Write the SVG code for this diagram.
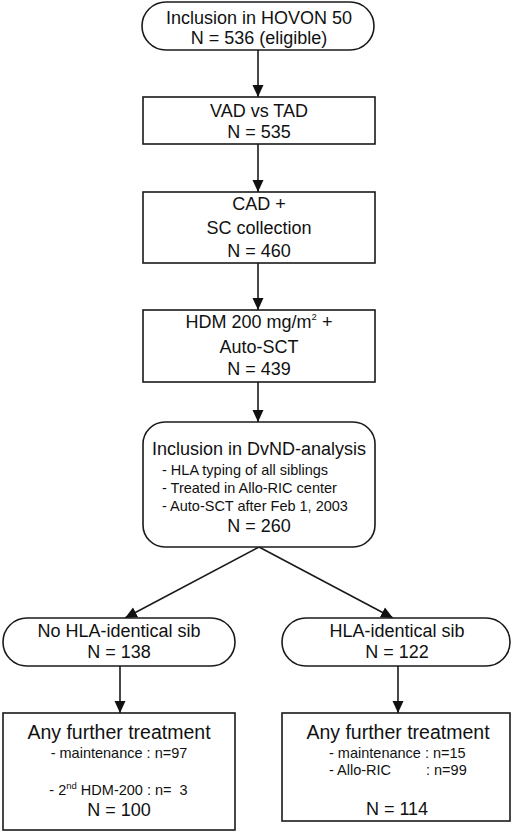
<svg xmlns="http://www.w3.org/2000/svg" width="520" height="835" viewBox="0 0 520 835">
<defs>
<style>
.box{fill:#fff;stroke:#1a1a1a;stroke-width:1.6}
.ln{fill:none;stroke:#1a1a1a;stroke-width:1.6}
text{font-family:"Liberation Sans",Arial,sans-serif;fill:#111}
.m{font-size:18px;text-anchor:middle}
.b{font-size:19.5px;text-anchor:middle}
.s{font-size:14.5px}
.t{font-size:14.5px}
.tc{font-size:14.5px;text-anchor:middle;white-space:pre}
.sup{font-size:9.5px}
</style>
<marker id="ah" markerUnits="userSpaceOnUse" markerWidth="12" markerHeight="12" refX="12" refY="6" orient="auto" viewBox="0 0 12 12">
<path d="M0,0.5 L12,6 L0,11.5 z" fill="#111"/>
</marker>
</defs>
<g id="connectors">
<line class="ln" x1="258" y1="50" x2="258" y2="97" marker-end="url(#ah)"/>
<line class="ln" x1="258" y1="144" x2="258" y2="192" marker-end="url(#ah)"/>
<line class="ln" x1="258" y1="263" x2="258" y2="310" marker-end="url(#ah)"/>
<line class="ln" x1="258" y1="382" x2="258" y2="422" marker-end="url(#ah)"/>
<line class="ln" x1="259" y1="547" x2="125" y2="618" marker-end="url(#ah)"/>
<line class="ln" x1="259" y1="547" x2="393" y2="618" marker-end="url(#ah)"/>
<line class="ln" x1="120" y1="666" x2="120" y2="713" marker-end="url(#ah)"/>
<line class="ln" x1="398" y1="666" x2="398" y2="713" marker-end="url(#ah)"/>
</g>
<g id="n1">
<rect class="box" x="142" y="2" width="232" height="48" rx="24"/>
<text class="m" x="259" y="24">Inclusion in HOVON 50</text>
<text class="m" x="259" y="44">N = 536 (eligible)</text>
</g>
<g id="n2">
<rect class="box" x="143" y="97" width="232" height="47"/>
<text class="m" x="259" y="117">VAD vs TAD</text>
<text class="m" x="259" y="138">N = 535</text>
</g>
<g id="n3">
<rect class="box" x="143" y="192" width="232" height="71"/>
<text class="m" x="259" y="210">CAD +</text>
<text class="m" x="259" y="234">SC collection</text>
<text class="m" x="259" y="257">N = 460</text>
</g>
<g id="n4">
<rect class="box" x="143" y="310" width="232" height="72"/>
<text class="m" x="259" y="328">HDM 200 mg/m<tspan class="sup" dy="-8">2</tspan><tspan dy="8"> +</tspan></text>
<text class="m" x="259" y="353">Auto-SCT</text>
<text class="m" x="259" y="375">N = 439</text>
</g>
<g id="n5">
<rect class="box" x="143" y="422" width="232" height="125" rx="22"/>
<text class="m" x="259" y="455">Inclusion in DvND-analysis</text>
<text class="s" x="162" y="475">- HLA typing of all siblings</text>
<text class="s" x="162" y="493">- Treated in Allo-RIC center</text>
<text class="s" x="162" y="511">- Auto-SCT after Feb 1, 2003</text>
<text class="m" x="259" y="532">N = 260</text>
</g>
<g id="n6">
<rect class="box" x="3" y="618" width="232" height="48" rx="24"/>
<text class="m" x="119" y="637">No HLA-identical sib</text>
<text class="m" x="119" y="658">N = 138</text>
</g>
<g id="n7">
<rect class="box" x="282" y="618" width="228" height="48" rx="24"/>
<text class="m" x="397" y="637">HLA-identical sib</text>
<text class="m" x="397" y="658">N = 122</text>
</g>
<g id="n8">
<rect class="box" x="3" y="713" width="232" height="117"/>
<text class="b" x="119" y="739">Any further treatment</text>
<text class="tc" x="119" y="758">- maintenance : n=97</text>
<text class="tc" x="118.5" y="795" xml:space="preserve">- 2<tspan class="sup" dy="-6">nd</tspan><tspan dy="6"> HDM-200 : n=  3</tspan></text>
<text class="m" x="119" y="816">N = 100</text>
</g>
<g id="n9">
<rect class="box" x="282" y="713" width="228" height="108"/>
<text class="b" x="398" y="739">Any further treatment</text>
<text class="t" x="329" y="758">- maintenance : n=15</text>
<text class="t" x="329" y="775">- Allo-RIC</text>
<text class="t" x="426" y="775">: n=99</text>
<text class="m" x="397" y="815">N = 114</text>
</g>
</svg>
